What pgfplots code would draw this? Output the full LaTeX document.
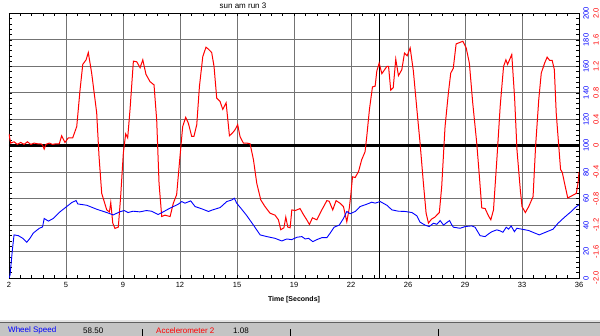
\documentclass[border=0pt]{standalone}
\usepackage{pgfplots}
\pgfplotsset{compat=1.18}
\usepackage{fontspec}
\setmainfont{Liberation Sans}
\definecolor{gridc}{RGB}{115,115,115}
\definecolor{redc}{RGB}{255,0,0}
\definecolor{bluec}{RGB}{0,0,255}
\definecolor{barc}{RGB}{196,196,196}
\begin{document}
\begin{tikzpicture}
\useasboundingbox (0pt,0pt) rectangle (600pt,336pt);
\fill[white] (0pt,0pt) rectangle (600pt,336pt);
% status bar
\fill[barc] (0pt,0pt) rectangle (600pt,13.5pt);
\fill[gray!22] (0pt,13.5pt) rectangle (600pt,16pt);
\draw[gray!75!black, line width=0.9pt] (0pt,13.5pt) -- (600pt,13.5pt);
\node[anchor=west, inner sep=0pt, text=bluec, font=\fontsize{8}{9}\selectfont] at (8pt,5.5pt) {Wheel Speed};
\node[anchor=west, inner sep=0pt, font=\fontsize{8}{9}\selectfont] at (83pt,5.5pt) {58.50};
\node[anchor=west, inner sep=0pt, text=redc, font=\fontsize{8}{9}\selectfont] at (156pt,5.5pt) {Accelerometer 2};
\node[anchor=west, inner sep=0pt, font=\fontsize{8}{9}\selectfont] at (233pt,5.5pt) {1.08};
\foreach \sx in {142,290,438} {\draw[black, line width=0.8pt] (\sx pt,0pt) -- (\sx pt,7pt);}
% title and x label
\node[font=\fontsize{8}{9}\selectfont] at (243pt,330pt) {sun am run 3};
\node[font=\bfseries\fontsize{7}{8}\selectfont] at (294pt,36pt) {Time [Seconds]};

\begin{axis}[
  at={(9pt,58pt)}, anchor=south west, scale only axis,
  width=570pt, height=264.5pt,
  xmin=2, xmax=36, ymin=-2, ymax=2,
  xtick={2,5.4,8.8,12.2,15.6,19,22.4,25.8,29.2,32.6,36},
  xticklabels={2,5,9,12,15,19,22,26,29,33,36},
  ytick={-2,-1.6,-1.2,-0.8,-0.4,0,0.4,0.8,1.2,1.6,2},
  yticklabels={-2.0,-1.6,-1.2,-0.8,-0.4,0,0.4,0.8,1.2,1.6,2.0},
  minor x tick num=4, minor y tick num=4,
  tick align=inside, major tick length=3pt, minor tick length=3pt,
  tick style={black, line width=0.6pt},
  yticklabel pos=right,
  yticklabel style={xshift=17pt, rotate=90, anchor=center, text=redc, font=\fontsize{7.5}{8}\selectfont},
  xticklabel style={font=\fontsize{7.5}{8}\selectfont, yshift=-1pt},
  grid=major, major grid style={gridc, line width=0.9pt},
  axis line style={black, line width=0.9pt},
  clip=true,
]
\addplot[black, line width=3.2pt] coordinates {(2,0)(36,0)};
\addplot[black, line width=0.9pt] coordinates {(24.07,-2)(24.07,2)};
\addplot[redc, line width=1pt] coordinates {
(2,0.18)(2.1,0.04)(2.3,0.06)(2.5,0.02)(2.7,0.05)(2.9,0.02)(3.1,0.06)(3.3,0.02)(3.5,0.04)(3.7,0.03)(3.9,0.03)(4.0,0.01)(4.1,-0.05)(4.2,0.02)(4.4,0.04)(4.6,0.02)(4.8,0.03)(5.0,0.03)(5.14,0.15)(5.34,0.05)(5.54,0.12)(5.8,0.12)(6.04,0.29)(6.24,0.85)(6.4,1.23)(6.6,1.30)(6.73,1.41)(6.93,1.10)(7.23,0.50)(7.37,-0.16)(7.53,-0.72)(7.83,-0.97)(7.99,-1.0)(8.07,-0.86)(8.19,-1.17)(8.32,-1.25)(8.52,-1.23)(8.66,-0.77)(8.82,-0.11)(8.96,0.18)(9.08,0.12)(9.22,0.55)(9.42,1.28)(9.62,1.27)(9.82,1.18)(9.98,1.30)(10.17,1.08)(10.41,0.97)(10.65,0.92)(10.81,0.39)(10.95,-0.57)(11.11,-1.07)(11.3,-1.05)(11.61,-1.07)(11.8,-0.87)(12.0,-0.74)(12.2,-0.16)(12.36,0.29)(12.54,0.43)(12.7,0.34)(12.9,0.14)(13.03,0.14)(13.2,0.32)(13.36,0.90)(13.56,1.35)(13.75,1.49)(13.9,1.46)(14.09,1.41)(14.23,1.20)(14.39,0.72)(14.59,0.67)(14.75,0.55)(14.95,0.65)(15.15,0.15)(15.35,0.20)(15.48,0.24)(15.64,0.32)(15.78,0.14)(15.98,0.04)(16.18,0.04)(16.38,0.03)(16.58,-0.21)(16.78,-0.57)(17.02,-0.82)(17.27,-0.92)(17.57,-1.02)(17.87,-1.05)(18.07,-1.12)(18.21,-1.27)(18.4,-1.24)(18.51,-1.08)(18.63,-1.23)(18.77,-1.24)(18.87,-0.97)(19.07,-0.98)(19.36,-0.95)(19.56,-1.04)(19.76,-1.12)(19.92,-1.19)(20.1,-1.09)(20.36,-1.12)(20.66,-0.97)(20.96,-0.83)(21.1,-0.84)(21.31,-0.97)(21.51,-0.83)(21.75,-0.87)(21.95,-0.92)(22.15,-1.15)(22.3,-0.94)(22.39,-0.74)(22.49,-0.47)(22.65,-0.48)(22.85,-0.39)(23.04,-0.21)(23.24,-0.09)(23.34,0.14)(23.5,0.55)(23.68,0.89)(23.84,0.90)(23.94,1.13)(24.08,1.25)(24.24,1.09)(24.54,1.20)(24.64,1.20)(24.77,0.84)(24.92,0.88)(25.07,1.31)(25.23,1.06)(25.43,1.15)(25.59,1.40)(25.75,1.36)(25.93,1.48)(26.12,1.13)(26.33,0.55)(26.52,0.04)(26.72,-0.57)(26.88,-1.02)(27.02,-1.17)(27.2,-1.11)(27.4,-1.08)(27.67,-1.01)(27.81,-0.62)(28.01,0.29)(28.21,0.80)(28.35,1.10)(28.5,1.17)(28.67,1.54)(28.87,1.56)(29.07,1.58)(29.27,1.48)(29.46,1.25)(29.66,0.65)(29.9,0.04)(30.06,-0.47)(30.2,-0.94)(30.4,-0.95)(30.6,-1.06)(30.74,-1.12)(30.9,-0.97)(31.1,-0.21)(31.3,0.60)(31.5,1.20)(31.64,1.30)(31.74,1.23)(31.99,1.38)(32.16,0.72)(32.3,-0.06)(32.5,-0.67)(32.6,-0.92)(32.8,-1.01)(33.0,-0.92)(33.26,-0.77)(33.41,-0.01)(33.6,0.70)(33.75,1.10)(33.95,1.25)(34.1,1.34)(34.25,1.29)(34.4,1.29)(34.53,1.15)(34.64,0.50)(34.9,-0.36)(35.0,-0.40)(35.14,-0.57)(35.33,-0.79)(35.55,-0.76)(35.84,-0.72)(35.95,-0.55)(36,-0.4)
};
\end{axis}

\begin{axis}[
  at={(9pt,58pt)}, anchor=south west, scale only axis,
  width=570pt, height=264.5pt,
  xmin=2, xmax=36, ymin=0, ymax=200,
  hide x axis,
  axis line style={draw=none},
  ytick={0,20,40,60,80,100,120,140,160,180,200},
  yticklabels={0,20,40,60,80,100,120,140,160,180,200},
  minor y tick num=0, major tick length=0pt,
  yticklabel pos=right,
  yticklabel style={xshift=7pt, rotate=90, anchor=center, text=bluec, font=\fontsize{7.5}{8}\selectfont},
  clip=true,
]
\addplot[bluec, line width=0.9pt] coordinates {
(2.0,0)(2.06,2)(2.2,21)(2.3,32.6)(2.56,32)(2.82,30)(3.06,27)(3.25,30)(3.45,34)(3.81,37.6)(4.0,38.6)(4.1,45)(4.35,43)(4.64,45)(5.04,50)(5.44,54)(5.74,57)(6.0,58.6)(6.1,56)(6.64,55)(7.23,52)(7.83,49.5)(8.22,47.7)(8.6,50)(8.87,51)(9.1,49.5)(9.4,50.5)(9.8,50)(10.2,51)(10.5,50.5)(10.9,48)(11.2,50)(11.6,52.8)(11.8,54)(12.1,55.8)(12.3,57.8)(12.5,56.6)(12.84,58.3)(13.1,54)(13.5,52.3)(13.9,50.3)(14.1,51.3)(14.6,53.3)(14.99,57.8)(15.29,59)(15.44,60.3)(15.58,56.6)(15.88,52)(16.18,47.2)(16.58,40)(16.98,32.6)(17.38,31.3)(17.87,30)(18.27,28)(18.57,29.5)(18.87,29)(19.17,30.8)(19.47,31.3)(19.67,29.5)(19.87,30)(20.12,27.5)(20.36,29)(20.66,30.5)(20.96,30.5)(21.15,33.8)(21.39,38.4)(21.7,40)(21.95,45)(22.15,50.3)(22.35,48.6)(22.65,50.3)(22.94,54)(23.34,55.8)(23.64,57.3)(23.84,56.6)(24.14,57.8)(24.54,55)(24.84,51.5)(25.23,50.5)(25.63,50.3)(26.03,49.5)(26.33,47)(26.52,42.2)(26.82,40)(27.06,38.9)(27.32,41.4)(27.52,40.6)(27.72,43.4)(27.92,40)(28.12,42)(28.28,43.4)(28.42,40)(28.51,38.4)(28.91,37.6)(29.21,38.9)(29.6,39.4)(29.8,38.4)(30.1,32)(30.4,31.3)(30.6,33.3)(30.8,35)(31.1,36.4)(31.3,35.6)(31.46,34.6)(31.66,38.4)(31.8,36.9)(31.95,39.4)(32.15,35)(32.29,37.6)(32.59,36.9)(33.0,35.9)(33.3,34.3)(33.63,32.6)(33.95,34.3)(34.45,36.9)(34.75,41.4)(35.14,46)(35.54,50.3)(35.84,54)(36,55.3)
};
\end{axis}
\end{tikzpicture}
\end{document}
